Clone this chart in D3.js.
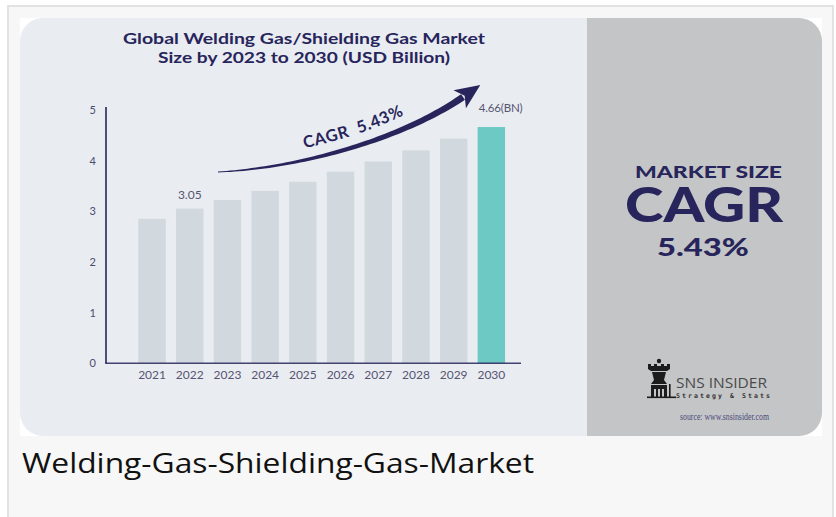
<!DOCTYPE html>
<html>
<head>
<meta charset="utf-8">
<script src="https://cdn.jsdelivr.net/npm/d3@7"></script>
<style>
  html, body { margin: 0; padding: 0; background: #ffffff; }
  svg { display: block; }
</style>
</head>
<body>
<svg id="chart" width="836" height="517"></svg>
<script>
// ---- data ----
const years = ["2021", "2022", "2023", "2024", "2025", "2026", "2027", "2028", "2029", "2030"];
const marketSize = [2.85, 3.05, 3.22, 3.40, 3.58, 3.78, 3.98, 4.20, 4.43, 4.66];
const yTicks = [0, 1, 2, 3, 4, 5];
const titleLines = ["Global Welding Gas/Shielding Gas Market", "Size by 2023 to 2030 (USD Billion)"];
const barLabels = { "2022": "3.05", "2030": "4.66(BN)" };
const cagrText = "CAGR  5.43%";
const sidePanel = ["MARKET SIZE", "CAGR", "5.43%"];
const caption = "Welding-Gas-Shielding-Gas-Market";

const navy = "#27255b";
const svg = d3.select("#chart");

// outer page frame
svg.append("rect").attr("x", 8).attr("y", 6).attr("width", 825).attr("height", 520)
  .attr("fill", "#f7f7f7").attr("stroke", "#e2e2e2").attr("stroke-width", 2);
// white image area
svg.append("rect").attr("x", 20).attr("y", 18).attr("width", 802).attr("height", 418).attr("fill", "#ffffff");

// card with rounded corners
const defs = svg.append("defs");
defs.append("clipPath").attr("id", "card")
  .append("rect").attr("x", 20).attr("y", 18).attr("width", 802).attr("height", 418).attr("rx", 23).attr("ry", 23);
const card = svg.append("g").attr("clip-path", "url(#card)");
card.append("rect").attr("x", 20).attr("y", 18).attr("width", 567).attr("height", 418).attr("fill", "#e9ecf1");
card.append("rect").attr("x", 587).attr("y", 18).attr("width", 235).attr("height", 418).attr("fill", "#c4c5c7");

// title
const titleG = svg.append("g");
titleG.selectAll("text").data(titleLines).join("text")
  .attr("x", 304).attr("y", (d, i) => 43.5 + i * 19)
  .attr("text-anchor", "middle")
  .attr("font-family", "Lato, 'Open Sans', sans-serif")
  .attr("font-weight", 700).attr("font-size", 15.5)
  .attr("fill", navy)
  .attr("textLength", (d, i) => i === 0 ? 362 : 292)
  .attr("lengthAdjust", "spacingAndGlyphs")
  .text(d => d);

// scales
const x = d3.scaleBand().domain(years).range([119.5, 523.9]).paddingInner(0.273).paddingOuter(0.5);
const y = d3.scaleLinear().domain([0, 5]).range([363.3, 109.8]);

// bars
svg.append("g").selectAll("rect").data(years).join("rect")
  .attr("x", d => x(d))
  .attr("y", (d, i) => y(marketSize[i]))
  .attr("width", x.bandwidth())
  .attr("height", (d, i) => y(0) - y(marketSize[i]))
  .attr("fill", (d, i) => i === years.length - 1 ? "#6cc9c3" : "#d1d8de");

// y axis (line + labels, no ticks)
const yAxis = svg.append("g").attr("transform", "translate(106,0)")
  .call(d3.axisLeft(y).tickValues(yTicks).tickSize(0).tickPadding(10).tickFormat(d3.format("d")));
yAxis.select(".domain").remove();
yAxis.selectAll("text").attr("font-family", "Lato, sans-serif").attr("font-size", 11).attr("fill", "#4d4c6e");
svg.append("line").attr("x1", 106).attr("x2", 106).attr("y1", 107).attr("y2", y(0))
  .attr("stroke", navy).attr("stroke-width", 1.6);

// x axis
const xAxis = svg.append("g").attr("transform", `translate(0,${y(0)})`)
  .call(d3.axisBottom(x).tickSize(0).tickPadding(7.5));
xAxis.select(".domain").remove();
xAxis.selectAll("text").attr("font-family", "Lato, sans-serif").attr("font-size", 12).attr("fill", "#565572");
svg.append("line").attr("x1", 105.2).attr("x2", 521).attr("y1", y(0)).attr("y2", y(0))
  .attr("stroke", navy).attr("stroke-width", 1.6).attr("stroke-opacity", 0.85);

// value labels
svg.append("g").selectAll("text").data(years.filter(d => barLabels[d])).join("text")
  .attr("x", d => d === "2030" ? x(d) + 1 : x(d) + x.bandwidth() / 2)
  .attr("y", d => y(marketSize[years.indexOf(d)]) - (d === "2030" ? 15 : 10))
  .attr("text-anchor", d => d === "2030" ? "start" : "middle")
  .attr("font-family", "Lato, sans-serif").attr("font-size", d => d === "2030" ? 11.5 : 12)
  .attr("fill", "#565572")
  .attr("textLength", d => d === "2030" ? 44 : null)
  .text(d => barLabels[d]);

// curved tapered CAGR arrow
const P = [[218, 172], [300, 168], [402, 139], [463, 97]];
function bez(t) {
  const u = 1 - t;
  const a = u * u * u, b = 3 * u * u * t, c = 3 * u * t * t, e = t * t * t;
  return [a * P[0][0] + b * P[1][0] + c * P[2][0] + e * P[3][0], a * P[0][1] + b * P[1][1] + c * P[2][1] + e * P[3][1]];
}
function dbez(t) {
  const u = 1 - t;
  const dx = 3 * u * u * (P[1][0] - P[0][0]) + 6 * u * t * (P[2][0] - P[1][0]) + 3 * t * t * (P[3][0] - P[2][0]);
  const dy = 3 * u * u * (P[1][1] - P[0][1]) + 6 * u * t * (P[2][1] - P[1][1]) + 3 * t * t * (P[3][1] - P[2][1]);
  const l = Math.hypot(dx, dy);
  return [dx / l, dy / l];
}
const N = 60, left = [], right = [];
for (let i = 0; i <= N; i++) {
  const t = i / N, p = bez(t), d = dbez(t), w = 0.4 + 3.0 * Math.pow(t, 0.8);
  left.push([p[0] + d[1] * w, p[1] - d[0] * w]);
  right.push([p[0] - d[1] * w, p[1] + d[0] * w]);
}
const body = left.concat(right.reverse());
svg.append("path").attr("d", d3.line()(body) + "Z").attr("fill", navy);
// arrow head
const end = bez(1), dir = dbez(1);
const nrm = [dir[1], -dir[0]];
const tip = [end[0] + dir[0] * 21, end[1] + dir[1] * 21];
const back = [end[0] - dir[0] * 4, end[1] - dir[1] * 4];
const headPts = [
  tip,
  [back[0] + nrm[0] * 11, back[1] + nrm[1] * 11],
  [end[0] + dir[0] * 2, end[1] + dir[1] * 2],
  [back[0] - nrm[0] * 11, back[1] - nrm[1] * 11]
];
svg.append("path").attr("d", d3.line()(headPts) + "Z").attr("fill", navy);

// CAGR text along curve
const tp = [[296, 150], [340, 141], [380, 128], [412, 111]];
defs.append("path").attr("id", "cagrPath")
  .attr("d", `M${tp[0]}C${tp[1]} ${tp[2]} ${tp[3]}`);
svg.append("text")
  .attr("font-family", "Lato, sans-serif").attr("font-weight", 700).attr("font-size", 16.5)
  .attr("fill", navy).attr("letter-spacing", 0.6)
  .append("textPath").attr("href", "#cagrPath").attr("startOffset", "50%").attr("text-anchor", "middle")
  .attr("xml:space", "preserve")
  .text(cagrText);

// right panel text
const side = svg.append("g").attr("fill", navy).attr("font-family", "Lato, 'DejaVu Sans', sans-serif").attr("font-weight", 900);
side.append("text").attr("x", 708.5).attr("y", 178).attr("text-anchor", "middle").attr("font-size", 16.5)
  .attr("textLength", 147).attr("lengthAdjust", "spacingAndGlyphs").text(sidePanel[0]);
side.append("text").attr("x", 704).attr("y", 222).attr("text-anchor", "middle").attr("font-size", 47)
  .attr("textLength", 158).attr("lengthAdjust", "spacingAndGlyphs").text(sidePanel[1]);
side.append("text").attr("x", 703).attr("y", 255.5).attr("text-anchor", "middle").attr("font-size", 25)
  .attr("textLength", 92).attr("lengthAdjust", "spacingAndGlyphs").text(sidePanel[2]);

// SNS Insider logo
const logo = svg.append("g");
const ic = logo.append("g").attr("fill", "#1c1c1c");
ic.append("circle").attr("cx", 659).attr("cy", 361).attr("r", 2.2);
ic.append("path").attr("d", "M648,364 L651,364 L651,366 L654,366 L654,364 L657,364 L657,366 L661,366 L661,364 L664,364 L664,366 L667,366 L667,364 L670,364 L670,369 L667,371 L651,371 L648,369 Z");
ic.append("path").attr("d", "M652,372 L666,372 L664,380 L667,384 L651,384 L654,380 Z");
ic.append("path").attr("d", "M651,385 L667,385 L667,397 L664,397 L664,389 L662,389 L662,397 L660,397 L660,389 L658,389 L658,397 L656,397 L656,389 L654,389 L654,397 L651,397 Z");
ic.append("rect").attr("x", 647).attr("y", 396.5).attr("width", 29).attr("height", 1.6);
ic.append("rect").attr("x", 669).attr("y", 384).attr("width", 1.6).attr("height", 13);
logo.append("text").attr("x", 676).attr("y", 388).attr("font-family", "'Liberation Sans Narrow', 'Open Sans', sans-serif")
  .attr("font-size", 15).attr("fill", "#4a4a4a").attr("textLength", 91).attr("lengthAdjust", "spacingAndGlyphs").text("SNS INSIDER");
logo.append("text").attr("x", 676).attr("y", 398).attr("font-family", "'DejaVu Sans Mono', monospace").attr("font-weight", 700)
  .attr("font-size", 6.5).attr("fill", "#333").attr("textLength", 94).attr("lengthAdjust", "spacing").text("Strategy & Stats");
logo.append("text").attr("x", 724.5).attr("y", 420).attr("text-anchor", "middle").attr("font-family", "'Liberation Serif', serif")
  .attr("font-size", 10.5).attr("fill", "#4b4a7c").attr("textLength", 89).attr("lengthAdjust", "spacingAndGlyphs").text("source: www.snsinsider.com");

// caption
svg.append("text").attr("x", 22).attr("y", 473).attr("font-family", "'Open Sans', sans-serif")
  .attr("font-size", 28).attr("fill", "#111").attr("textLength", 512).attr("lengthAdjust", "spacingAndGlyphs").text(caption);
</script>
</body>
</html>
